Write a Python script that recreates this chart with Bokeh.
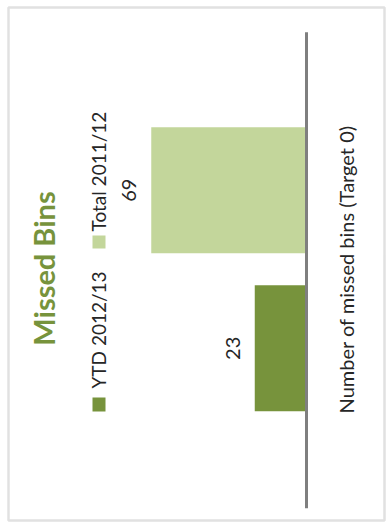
from math import pi
from bokeh.plotting import figure
from bokeh.models import (FactorRange, Range1d, Label, BoxAnnotation, ColumnDataSource)
from bokeh.transform import dodge
from bokeh.embed import file_html
from bokeh.resources import INLINE
from bokeh.core.properties import value

# ---- data ----
title_text = "Missed Bins"
categories = ["Number of missed bins (Target 0)"]
series_names = ["YTD 2012/13", "Total 2011/12"]
ytd_values = [23]
total_values = [69]
series_colors = ["#77933C", "#C3D69B"]

# ---- layout (pixels) ----
W, H = 390, 529
AXIS_PX = 306          # where value 0 sits
PX_PER_UNIT = 2.25     # value-axis scale
FONT = "Lato"
TXT = "#262626"

x_start = AXIS_PX / PX_PER_UNIT
x_end = -(W - AXIS_PX) / PX_PER_UNIT

p = figure(width=W, height=H, output_backend="svg", toolbar_location=None,
           x_range=Range1d(x_start, x_end),
           y_range=FactorRange(factors=categories, range_padding=0.0557,
                               range_padding_units="absolute"),
           x_axis_location=None, y_axis_location=None,
           min_border=0)
p.outline_line_color = None
p.background_fill_color = "white"
p.border_fill_color = "white"
p.xgrid.visible = False
p.ygrid.visible = False

src = ColumnDataSource(dict(
    cat=categories,
    zero=[0] * len(categories),
    ytd=ytd_values, total=total_values,
    ytd_lbl=[str(v) for v in ytd_values],
    total_lbl=[str(v) for v in total_values],
))

shift = -0.009
offsets = [-0.166 + shift, 0.166 + shift]
cols = ["ytd", "total"]
for name, col, color, off in zip(series_names, cols, series_colors, offsets):
    ypos = dodge("cat", off, range=p.y_range)
    p.hbar(y=ypos, left="zero", right=col, height=0.265, fill_color=color,
           line_color=None, source=src)
    p.text(x=col, y=ypos, text=col + "_lbl", angle=pi / 2, x_offset=-22,
           text_align="center", text_baseline="middle",
           text_font=value(FONT), text_font_size="20px", text_color=TXT,
           source=src)

# category axis line (at value 0) and its label
p.segment(x0="zero", x1="zero",
          y0=dodge("cat", -0.5 - 0.011, range=p.y_range),
          y1=dodge("cat", 0.5 - 0.011, range=p.y_range),
          line_color="#7f7f7f", line_width=3, source=src)
p.text(x="zero", y=dodge("cat", shift, range=p.y_range), text="cat",
       angle=pi / 2, x_offset=39, text_align="center", text_baseline="middle",
       text_font=value(FONT), text_font_size="20px", text_color=TXT, source=src)

def sy(py):
    return H - py

# title
p.add_layout(Label(x=43, y=sy(268), x_units="screen", y_units="screen",
                   text=title_text, angle=pi / 2, text_align="center",
                   text_baseline="middle", text_font=FONT, text_font_style="bold",
                   text_font_size="29px", text_color="#77933C"))

# legend (rotated)
legend_pos = [(397, 411, 388), (235, 248, 231)]  # square top, square bottom, text start
for name, color, (st, sb, ts) in zip(series_names, series_colors, legend_pos):
    p.add_layout(BoxAnnotation(left=92, right=105, top=sy(st), bottom=sy(sb),
                               left_units="screen", right_units="screen",
                               top_units="screen", bottom_units="screen",
                               fill_color=color, fill_alpha=1, line_color=None))
    p.add_layout(Label(x=98, y=sy(ts), x_units="screen", y_units="screen",
                       text=name, angle=pi / 2, text_align="left",
                       text_baseline="middle", text_font=FONT,
                       text_font_size="19px", text_color=TXT))

# outer chart border
p.add_layout(BoxAnnotation(left=8, right=384, top=sy(7), bottom=sy(520),
                           left_units="screen", right_units="screen",
                           top_units="screen", bottom_units="screen",
                           fill_alpha=0, line_color="#9c9c9c", line_width=2.5))

open("out.html", "w").write(file_html(p, INLINE))
